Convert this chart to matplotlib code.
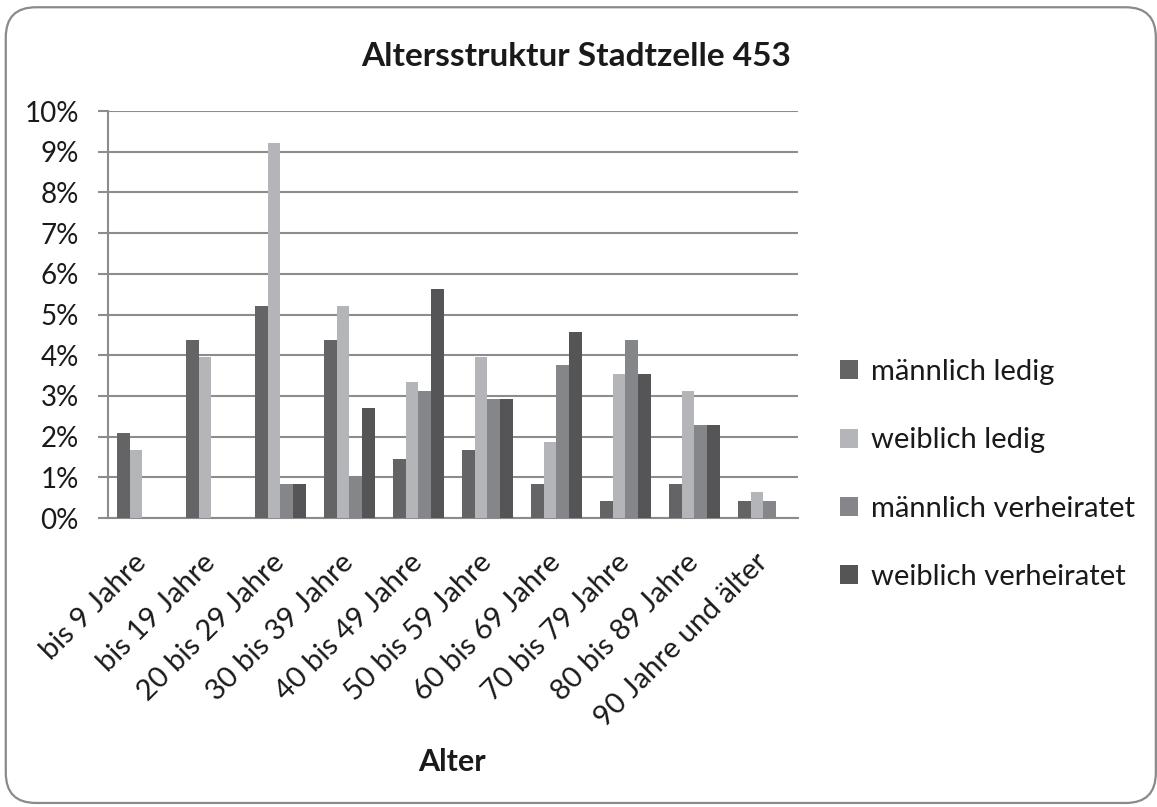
import numpy as np
import matplotlib
matplotlib.use('Agg')
import matplotlib.pyplot as plt
from matplotlib.patches import FancyBboxPatch

plt.rcParams['font.family'] = ['Lato', 'DejaVu Sans']

# Altersgruppen und Anteile in Prozent
gruppen = ['bis 9 Jahre', 'bis 19 Jahre', '20 bis 29 Jahre', '30 bis 39 Jahre',
           '40 bis 49 Jahre', '50 bis 59 Jahre', '60 bis 69 Jahre',
           '70 bis 79 Jahre', '80 bis 89 Jahre', '90 Jahre und älter']
maennlich_ledig = [2.08, 4.38, 5.21, 4.38, 1.46, 1.67, 0.83, 0.42, 0.83, 0.42]
weiblich_ledig = [1.67, 3.96, 9.21, 5.21, 3.33, 3.96, 1.88, 3.54, 3.13, 0.63]
maennlich_verh = [0.0, 0.0, 0.83, 1.04, 3.13, 2.92, 3.75, 4.38, 2.29, 0.42]
weiblich_verh = [0.0, 0.0, 0.83, 2.71, 5.63, 2.92, 4.58, 3.54, 2.29, 0.0]

serien = [maennlich_ledig, weiblich_ledig, maennlich_verh, weiblich_verh]
namen = ['männlich ledig', 'weiblich ledig', 'männlich verheiratet', 'weiblich verheiratet']
farben = ['#646466', '#b4b5b8', '#858689', '#555557']
grau = '#8c8c8c'
text_farbe = '#1a1a1a'

fig = plt.figure(figsize=(11.57, 8.07), dpi=100, facecolor='white')

# abgerundeter Rahmen um das ganze Diagramm
rahmen = FancyBboxPatch((0.005, 0.005), 0.994, 0.986,
                        boxstyle='round,pad=0,rounding_size=0.026',
                        transform=fig.transFigure, facecolor='none',
                        edgecolor='#8a8a8a', linewidth=1.6,
                        mutation_aspect=1157 / 807, zorder=-1)
fig.patches.append(rahmen)

ax = fig.add_axes([0.0933, 0.3581, 0.5964, 0.5043])
ax.set_facecolor('none')

x = np.arange(len(gruppen))
w = 1 / 5.5
for k, (werte, name, farbe) in enumerate(zip(serien, namen, farben)):
    ax.bar(x + (k - 1.5) * w, werte, width=w, color=farbe, label=name, zorder=3)

ax.set_xlim(-0.5, len(gruppen) - 0.5)
ax.set_ylim(0, 10)
ax.set_yticks(np.arange(0, 11, 1))
ax.set_yticklabels([f'{v}%' for v in range(11)], fontsize=20, color=text_farbe)
ax.yaxis.grid(True, color=grau, linewidth=1.5, zorder=0)
ax.tick_params(axis='y', length=7, width=1.5, color=grau, pad=14)
ax.tick_params(axis='x', length=0, pad=29)
ax.set_xticks(x)
ax.set_xticklabels(gruppen, rotation=45, ha='right', va='center',
                   rotation_mode='anchor', fontsize=21, color=text_farbe)

for s in ['top', 'right']:
    ax.spines[s].set_visible(False)
for s in ['left', 'bottom']:
    ax.spines[s].set_color(grau)
    ax.spines[s].set_linewidth(1.5)

fig.text(0.498, 0.93, 'Altersstruktur Stadtzelle 453', ha='center', va='center',
         fontsize=24, fontweight='bold', color=text_farbe)
fig.text(0.391, 0.056, 'Alter', ha='center', va='center',
         fontsize=22, fontweight='bold', color=text_farbe)

fig.legend(loc='center left', bbox_to_anchor=(0.703, 0.412),
           frameon=False, fontsize=21, handlelength=0.63, handleheight=0.63,
           handletextpad=0.45, labelspacing=1.45, labelcolor=text_farbe)

fig.savefig('out.png', dpi=100)
